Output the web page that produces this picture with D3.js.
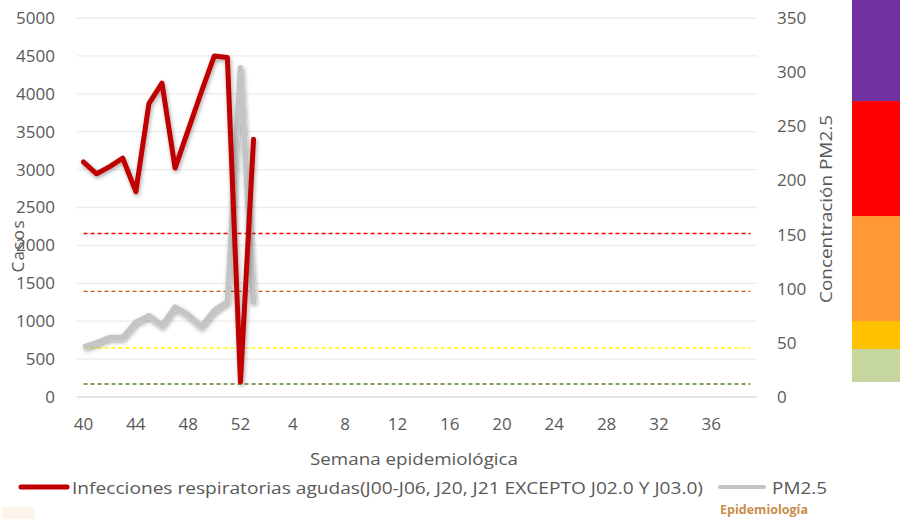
<!DOCTYPE html>
<html><head><meta charset="utf-8">
<script src="https://cdn.jsdelivr.net/npm/d3@7"></script>
<style>html,body{margin:0;padding:0;background:#fff;}svg{display:block;}</style>
</head><body>
<svg id="chart" width="903" height="519"></svg>
<script>
// ---- data ----
const weeks = [40,41,42,43,44,45,46,47,48,49,50,51,52,1,2,3,4,5,6,7,8,9,10,11,12,13,14,15,16,17,18,19,20,21,22,23,24,25,26,27,28,29,30,31,32,33,34,35,36,37,38,39];
const tickWeeks = [40,44,48,52,4,8,12,16,20,24,28,32,36];
const casos = [3100,2945,3040,3150,2710,3870,4140,3020,3520,4020,4500,4480,200,3400];
const pm25 = [46,50,55,55,69,75,66,83,76,65,80,88,304,86];
const leftTicks = [0,500,1000,1500,2000,2500,3000,3500,4000,4500,5000];
const rightTicks = [0,50,100,150,200,250,300,350];
const thresholds = [
  {value:12, color:"#548235"},
  {value:45.5, color:"#FFFF00"},
  {value:97.5, color:"#C65911"},
  {value:151, color:"#FF0000"}
];
const bands = [
  {lo:13.9, hi:44.3, color:"#C5D79E"},
  {lo:44.3, hi:70.2, color:"#FFC000"},
  {lo:70.2, hi:167.1, color:"#FF9933"},
  {lo:167.1, hi:273.3, color:"#FF0000"},
  {lo:273.3, hi:367, color:"#7030A0"}
];
const seriesNames = ["Infecciones respiratorias agudas(J00-J06, J20, J21 EXCEPTO J02.0 Y J03.0)", "PM2.5"];

// ---- layout ----
const svg = d3.select("#chart");
const L = 77, R = 757, T = 18, B = 397;
const font = "'Open Sans', 'DejaVu Sans', sans-serif";
const txt = "#595959";

const x = d3.scaleBand().domain(d3.range(weeks.length)).range([L, R]);
const xc = i => x(i) + x.bandwidth()/2;
const yL = d3.scaleLinear().domain([0,5000]).range([B, T]);
const yR = d3.scaleLinear().domain([0,350]).range([B, T]);

const defs = svg.append("defs");
const f = defs.append("filter").attr("id","shadow").attr("x","-20%").attr("y","-20%").attr("width","140%").attr("height","140%");
f.append("feGaussianBlur").attr("in","SourceAlpha").attr("stdDeviation",2).attr("result","b");
f.append("feOffset").attr("in","b").attr("dx",1).attr("dy",2).attr("result","o");
f.append("feComponentTransfer").attr("in","o").attr("result","o2").append("feFuncA").attr("type","linear").attr("slope",0.35);
const fm = f.append("feMerge"); fm.append("feMergeNode").attr("in","o2"); fm.append("feMergeNode").attr("in","SourceGraphic");

// color bands on the right
svg.append("g").selectAll("rect").data(bands).join("rect")
  .attr("x", 852).attr("width", 48)
  .attr("y", d => yR(d.hi)).attr("height", d => yR(d.lo) - yR(d.hi))
  .attr("fill", d => d.color);

// gridlines
svg.append("g").selectAll("line").data(leftTicks.filter(d=>d>0)).join("line")
  .attr("x1", L).attr("x2", R).attr("y1", d => yL(d)).attr("y2", d => yL(d))
  .attr("stroke", "#EBEBEB").attr("stroke-width", 1.3);
svg.append("line").attr("x1", L).attr("x2", R).attr("y1", B).attr("y2", B)
  .attr("stroke", "#D9D9D9").attr("stroke-width", 1.5);

// left axis
const axL = d3.axisLeft(yL).tickValues(leftTicks).tickFormat(d3.format("d")).tickSize(0).tickPadding(0);
const gL = svg.append("g").attr("transform", `translate(${L-22},0)`).call(axL);
gL.select(".domain").remove();
gL.selectAll("text").attr("font-family", font).attr("font-size", 17).attr("fill", txt);

// right axis
const axR = d3.axisRight(yR).tickValues(rightTicks).tickFormat(d3.format("d")).tickSize(0).tickPadding(0);
const gR = svg.append("g").attr("transform", `translate(${R+20},0)`).call(axR);
gR.select(".domain").remove();
gR.selectAll("text").attr("font-family", font).attr("font-size", 17).attr("fill", txt);

// bottom axis
const axB = d3.axisBottom(x).tickValues(tickWeeks.map(w => weeks.indexOf(w))).tickFormat(i => weeks[i]).tickSize(0).tickPadding(0);
const gB = svg.append("g").attr("transform", `translate(0,${B+21})`).call(axB);
gB.select(".domain").remove();
gB.selectAll("text").attr("font-family", font).attr("font-size", 17).attr("fill", txt);

// threshold dashed lines
svg.append("g").selectAll("path").data(thresholds).join("path")
  .attr("d", t => d3.line().x((d,i)=>xc(i)).y(()=>yR(t.value))(weeks))
  .attr("fill","none").attr("stroke", t => t.color).attr("stroke-width", 1.3)
  .attr("stroke-dasharray", "4,3");

// PM2.5 line
svg.append("path").datum(pm25)
  .attr("d", d3.line().x((d,i)=>xc(i)).y(d=>yR(d)))
  .attr("fill","none").attr("stroke","#C4C4C4").attr("stroke-width",5.5)
  .attr("stroke-linejoin","round").attr("filter","url(#shadow)");

// Casos line
svg.append("path").datum(casos)
  .attr("d", d3.line().x((d,i)=>xc(i)).y(d=>yL(d)))
  .attr("fill","none").attr("stroke","#C00000").attr("stroke-width",5)
  .attr("stroke-linejoin","round").attr("stroke-linecap","round").attr("filter","url(#shadow)");

// axis titles
svg.append("text").attr("transform","translate(24,246.5) rotate(-90)")
  .attr("text-anchor","middle").attr("font-family",font).attr("font-size",17).attr("fill",txt)
  .attr("textLength",52).attr("lengthAdjust","spacing").text("Casos");
svg.append("text").attr("transform","translate(832,209) rotate(-90)")
  .attr("text-anchor","middle").attr("font-family",font).attr("font-size",17).attr("fill",txt)
  .attr("textLength",188).attr("lengthAdjust","spacingAndGlyphs").text("Concentración PM2.5");
svg.append("text").attr("x",414).attr("y",465)
  .attr("text-anchor","middle").attr("font-family",font).attr("font-size",17).attr("fill",txt)
  .attr("textLength",208).attr("lengthAdjust","spacingAndGlyphs").text("Semana epidemiológica");

// legend
svg.append("line").attr("x1",21).attr("x2",67).attr("y1",487).attr("y2",487)
  .attr("stroke","#C00000").attr("stroke-width",5).attr("stroke-linecap","round");
svg.append("text").attr("x",72).attr("y",494).attr("font-family",font).attr("font-size",17).attr("fill",txt)
  .attr("textLength",631).attr("lengthAdjust","spacingAndGlyphs").text(seriesNames[0]);
svg.append("line").attr("x1",720).attr("x2",764).attr("y1",487).attr("y2",487)
  .attr("stroke","#C4C4C4").attr("stroke-width",4).attr("stroke-linecap","round");
svg.append("text").attr("x",772).attr("y",494).attr("font-family",font).attr("font-size",17).attr("fill",txt)
  .attr("textLength",55).attr("lengthAdjust","spacingAndGlyphs").text(seriesNames[1]);

// footer
svg.append("rect").attr("x",2).attr("y",507).attr("width",33).attr("height",12).attr("fill","#FDF5EA");
svg.append("text").attr("x",720).attr("y",514).attr("font-family",font).attr("font-size",12.5).attr("font-weight","bold")
  .attr("fill","#C98D4B").attr("textLength",88).attr("lengthAdjust","spacingAndGlyphs").text("Epidemiología");
</script>
</body></html>
